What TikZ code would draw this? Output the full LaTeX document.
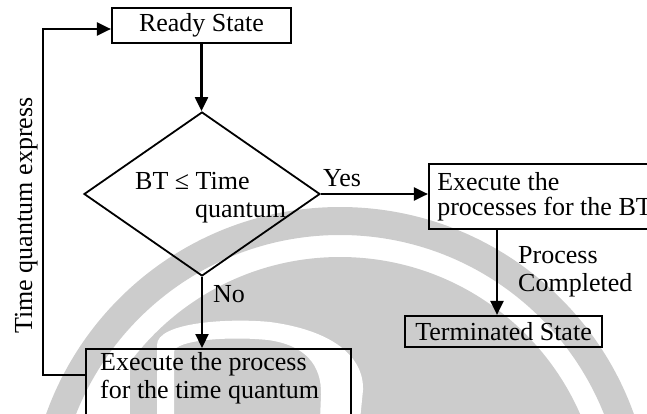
\documentclass[tikz,border=0pt]{standalone}
\usepackage{fontspec}
\setmainfont{Liberation Serif}
\usetikzlibrary{arrows.meta,shapes.geometric}
\definecolor{wm}{gray}{0.80}
\newcommand\fs{\fontsize{26}{28}\selectfont}
\tikzset{
  box/.style={draw, line width=2.2pt, inner sep=0pt, font=\fs},
  arr/.style={line width=2.2pt, -{Triangle[length=14pt,width=13pt]}},
  lbl/.style={inner sep=0pt, font=\fs},
}
\begin{document}
\begin{tikzpicture}[x=1pt, y=-1pt]
\useasboundingbox (0,0) rectangle (647,413);
\clip (0,0) rectangle (647,413);

% background logo: outer ring, inner disc and the white "D"
\fill[wm, even odd rule] (340,519) circle[radius=312] (340,519) circle[radius=284];
\begin{scope}
  \clip (130,0) rectangle (700,500);
  \fill[wm] (340,519) circle[radius=262];
\end{scope}
\fill[white, even odd rule]
  (157,420) -- (157,345) .. controls (157,322) and (230,318) .. (270,322)
  .. controls (330,330) and (364,355) .. (363,390) -- (360,420) -- cycle
  (174,420) -- (174,352) .. controls (174,340) and (230,336) .. (268,340)
  .. controls (305,345) and (322,365) .. (321,395) -- (320,420) -- cycle;

% nodes
\node[box, minimum width=179pt, minimum height=35pt] (ready) at (201.5,25.5) {Ready State};
\node[draw, diamond, line width=1.8pt, minimum width=236pt, minimum height=164pt, inner sep=0pt] (dec) at (202,194) {};
\node[lbl, anchor=base west] (dectxt) at (135,189)
  {\begin{tabular}[t]{@{}l@{}}BT ≤ Time\\\hspace*{60pt}quantum\end{tabular}};
\node[box, minimum width=231pt, minimum height=65pt, align=left,
      font=\fontsize{26}{25}\selectfont] (exbt) at (544.5,196.5)
  {Execute the\\processes for the BT};
\node[box, minimum width=197pt, minimum height=31pt] (term) at (503.5,331.5) {Terminated State};
\node[box, anchor=north west, minimum width=265pt, minimum height=80pt] (ex) at (85,348) {};
\node[lbl, anchor=base west] (extxt) at (100,370)
  {\begin{tabular}[t]{@{}l@{}}Execute the process\\for the time quantum\end{tabular}};

% labels
\node[lbl, anchor=base west] (yes) at (323,186) {Yes};
\node[lbl, anchor=base west] (no) at (213,302) {No};
\node[lbl, anchor=base west] (done) at (518,263)
  {\begin{tabular}[t]{@{}l@{}}Process\\Completed\end{tabular}};
\node[lbl, rotate=90, anchor=base] (loopl) at (32,215.5) {Time quantum express};

% connectors
\coordinate (tx) at (497,0);
\coordinate (lb) at (43,375);
\coordinate (lt) at (43,29);
\draw[arr] (ready.south) -- (ready.south |- dec.north);
\draw[arr] (dec.east) -- (exbt.west |- dec.east);
\draw[arr] (dec.south) -- (dec.south |- ex.north);
\draw[arr] (exbt.south -| tx) -- (term.north -| tx);
\draw[arr] (ex.west |- lb) -- (lb) -- (lt) -- (ready.west |- lt);
\end{tikzpicture}
\end{document}
